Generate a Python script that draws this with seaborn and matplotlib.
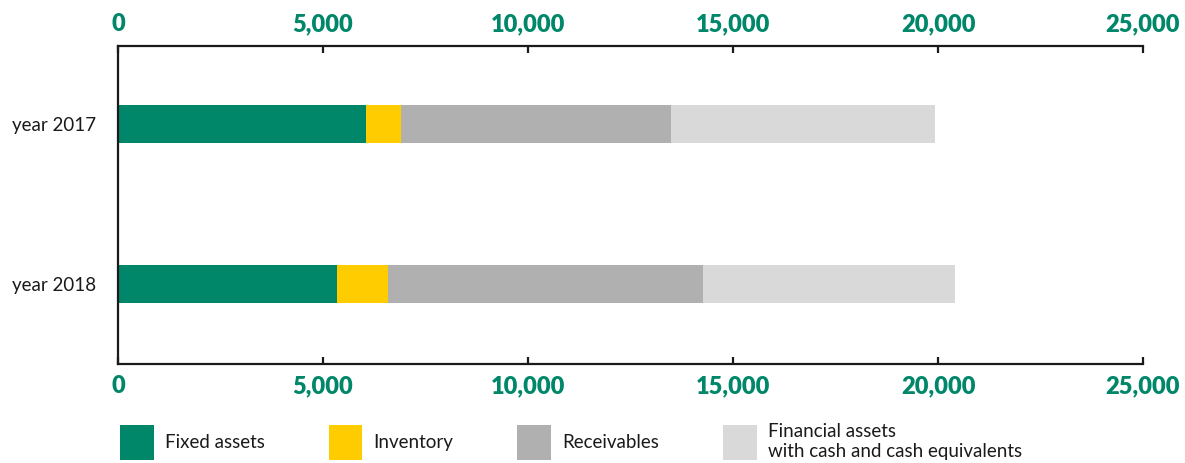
import numpy as np
import pandas as pd
import seaborn as sns
import matplotlib.pyplot as plt
from matplotlib.patches import Patch

years = ['year 2017', 'year 2018']
series = ['Fixed assets', 'Inventory', 'Receivables',
          'Financial assets\nwith cash and cash equivalents']
fixed_assets = [6050, 5340]
inventory = [860, 1245]
receivables = [6580, 7685]
financial = [6430, 6140]
colors = ['#00876a', '#ffcc00', '#afb0af', '#d9d9d9']
ticks = [0, 5000, 10000, 15000, 20000, 25000]

sns.set_style('white')
plt.rcParams['font.family'] = ['Lato', 'DejaVu Sans']

values = np.array([fixed_assets, inventory, receivables, financial])
cum = values.cumsum(axis=0)

fig = plt.figure(figsize=(11.85, 4.63), dpi=100)
ax = fig.add_axes([118 / 1185, 1 - 364 / 463, 1025 / 1185, 318 / 463])

# stacked bars: draw cumulative totals from largest to smallest
for i in range(len(series) - 1, -1, -1):
    df = pd.DataFrame({'year': years, 'value': cum[i]})
    sns.barplot(data=df, x='value', y='year', orient='h', color=colors[i],
                width=0.2375, saturation=1, ax=ax, linewidth=0)

ax.set_xlim(0, 25000)
ax.set_ylim(1.497, -0.4875)
ax.set_xlabel('')
ax.set_ylabel('')
ax.set_xticks(ticks)
ax.set_xticklabels([f'{t:,}' for t in ticks])

for s in ['left', 'top', 'bottom']:
    ax.spines[s].set_visible(True)
    ax.spines[s].set_color('#1a1a1a')
    ax.spines[s].set_linewidth(1.6)
ax.spines['right'].set_visible(False)

ax.tick_params(axis='x', which='both', direction='in', length=5, width=1.6,
               color='#1a1a1a', top=True, bottom=True, labeltop=True,
               labelbottom=True, labelsize=17, labelcolor='#00876a', pad=8)
for t in ax.xaxis.get_major_ticks():
    t.label1.set_fontweight('heavy')
    t.label2.set_fontweight('heavy')
ax.tick_params(axis='y', length=0, labelsize=13.5, labelcolor='#1a1a1a', pad=16)

handles = [Patch(facecolor=c, edgecolor='none') for c in colors]
fig.legend(handles, series, loc='upper left', bbox_to_anchor=(120 / 1185, 1 - 423 / 463),
           ncol=4, frameon=False, fontsize=13.5, handlelength=1.8, handleheight=2.5,
           handletextpad=0.6, columnspacing=3.4, borderpad=0, borderaxespad=0,
           labelspacing=0, labelcolor='#1a1a1a')

fig.savefig('out.png', dpi=100)
